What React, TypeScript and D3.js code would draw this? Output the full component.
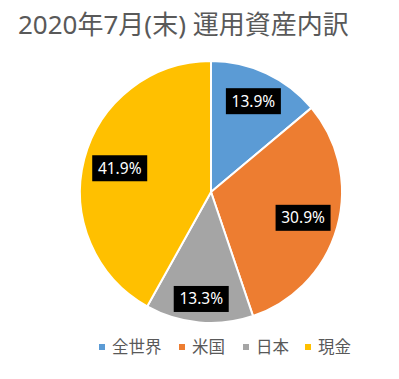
import React from "react";
import * as d3 from "d3";

const categories = ["全世界", "米国", "日本", "現金"];
const values = [13.9, 30.9, 13.3, 41.9];
const colors = ["#5B9BD5", "#ED7D31", "#A5A5A5", "#FFC000"];
const labelRadiusFactors = [0.765, 0.73, 0.82, 0.72];
const legendX = [102, 182, 246, 308];

export default function App() {
  const W = 399, H = 379;
  const cx = 211, cy = 192, R = 131;
  const pie = d3.pie<number>().sort(null).value((d) => d)(values);
  const arc = d3.arc<d3.PieArcDatum<number>>().innerRadius(0).outerRadius(R);
  const font = "'Noto Sans', 'Noto Sans CJK JP', sans-serif";
  return (
    <svg width={W} height={H} style={{ position: "absolute", left: 0, top: 0, background: "#fff" }}>
      <text x={18} y={34} fontSize={26} fill="#595959" fontFamily={font}>
        2020年7月(末) 運用資産内訳
      </text>
      <g transform={`translate(${cx},${cy})`}>
        {pie.map((p, i) => (
          <path key={i} d={arc(p) || ""} fill={colors[i]} stroke="#fff" strokeWidth={2} />
        ))}
        {pie.map((p, i) => {
          const a = (p.startAngle + p.endAngle) / 2;
          const r = R * labelRadiusFactors[i];
          const x = Math.sin(a) * r;
          const y = -Math.cos(a) * r;
          return (
            <g key={"l" + i} transform={`translate(${x},${y})`}>
              <rect x={-27.5} y={-13} width={55} height={26} fill="#000" />
              <text x={0} y={5.5} textAnchor="middle" fontSize={15.5} fill="#fff" fontFamily={font}>
                {values[i].toFixed(1)}%
              </text>
            </g>
          );
        })}
      </g>
      {categories.map((c, i) => (
        <g key={c}>
          <rect x={legendX[i] - 3} y={344} width={6} height={6} fill={colors[i]} />
          <text x={legendX[i] + 10} y={353} fontSize={16.5} fill="#595959" fontFamily={font}>
            {c}
          </text>
        </g>
      ))}
    </svg>
  );
}
